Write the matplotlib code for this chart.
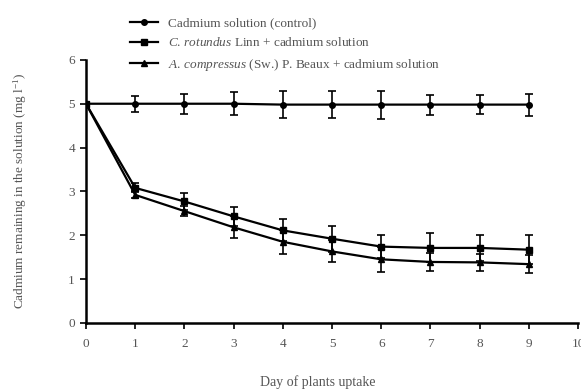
import numpy as np
import matplotlib
matplotlib.use('Agg')
import matplotlib.pyplot as plt
from matplotlib.lines import Line2D

plt.rcParams['font.family'] = 'Liberation Serif'
plt.rcParams['mathtext.fontset'] = 'custom'
plt.rcParams['mathtext.it'] = 'Liberation Serif:italic'
plt.rcParams['mathtext.rm'] = 'Liberation Serif'

days = [0, 1, 2, 3, 4, 5, 6, 7, 8, 9]

control = [5.0, 5.0, 5.0, 5.0, 4.98, 4.98, 4.98, 4.98, 4.98, 4.98]
control_err = [0.05, 0.18, 0.23, 0.26, 0.3, 0.3, 0.32, 0.23, 0.22, 0.25]

rotundus = [5.0, 3.08, 2.77, 2.43, 2.11, 1.92, 1.74, 1.71, 1.71, 1.67]
rotundus_err = [0.05, 0.1, 0.2, 0.21, 0.25, 0.3, 0.27, 0.33, 0.3, 0.33]

compressus = [5.0, 2.92, 2.55, 2.18, 1.85, 1.63, 1.45, 1.39, 1.38, 1.34]
compressus_err = [0.05, 0.08, 0.12, 0.25, 0.28, 0.25, 0.28, 0.2, 0.2, 0.2]

labels = ['Cadmium solution (control)',
          r'$\mathit{C.\,rotundus}$ Linn + cadmium solution',
          r'$\mathit{A.\,compressus}$ (Sw.) P. Beaux + cadmium solution']

grey = '#555555'

fig = plt.figure(figsize=(5.81, 3.89), dpi=100)
ax = fig.add_axes([0.148, 0.170, 0.847, 0.676])

series = [(control, control_err, 'o'), (rotundus, rotundus_err, 's'),
          (compressus, compressus_err, '^')]
handles = []
for (vals, err, mk), lab in zip(series, labels):
	ax.errorbar(days, vals, yerr=err, color='black', marker=mk, markersize=4,
	            linewidth=1.6, elinewidth=1.2, capsize=3, capthick=1.2)
	handles.append(Line2D([], [], color='black', marker=mk, markersize=4,
	                      linewidth=1.6, label=lab))

ax.set_xlim(0, 10)
ax.set_ylim(0, 6)
ax.set_xticks(range(0, 11))
ax.set_yticks(range(0, 7))
for s in ['top', 'right']:
	ax.spines[s].set_visible(False)
for s in ['left', 'bottom']:
	ax.spines[s].set_linewidth(1.8)
ax.tick_params(direction='out', length=4, width=1.2, labelsize=9.5, labelcolor=grey)
ax.tick_params(axis='x', pad=7)
ax.tick_params(axis='y', pad=4)

ax.set_xlabel('Day of plants uptake', fontsize=10, color=grey, labelpad=11)
ax.xaxis.set_label_coords(0.47, -0.2)
ax.set_ylabel(r'Cadmium remaining in the solution (mg l$^{-1}$)', fontsize=9.5,
              color=grey, labelpad=28)

leg = fig.legend(handles=handles, loc='upper left', bbox_to_anchor=(0.215, 0.97),
                 frameon=False, fontsize=9.5, handlelength=2.1, labelspacing=0.55,
                 handletextpad=0.8, borderaxespad=0)
for t in leg.get_texts():
	t.set_color(grey)

fig.savefig('out.png', dpi=100)
